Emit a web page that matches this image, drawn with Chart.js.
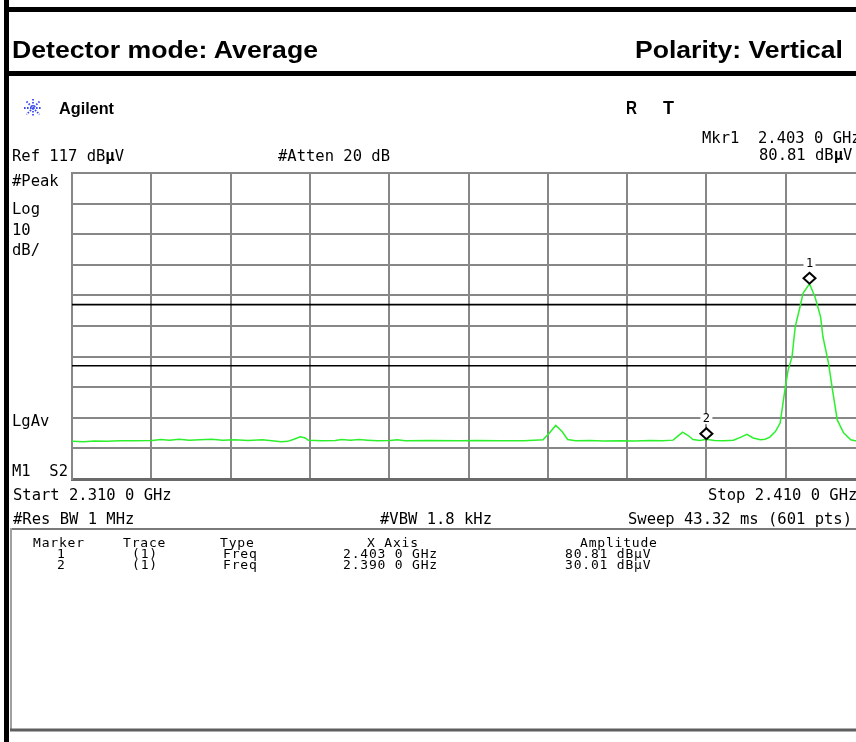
<!DOCTYPE html>
<html>
<head>
<meta charset="utf-8">
<script src="https://cdn.jsdelivr.net/npm/chart.js@4.4.1/dist/chart.umd.min.js"></script>
<style>
  html, body { margin: 0; padding: 0; background: #fff; overflow: hidden; width: 856px; height: 742px; }
  #plot { position: absolute; left: 70px; top: 171px; width: 797px; height: 310px; }
  #frame { position: absolute; left: 0; top: 0; }
  text { white-space: pre; }
  .hp { font-family: "DejaVu Sans Mono", monospace; font-size: 15.5px; fill: #000; }
  .tb { font-family: "DejaVu Sans Mono", monospace; font-size: 13px; letter-spacing: 0.8px; fill: #000; }
  .hd { font-family: "Liberation Sans", Arial, sans-serif; font-weight: bold; fill: #000; }
</style>
</head>
<body>
<div id="plot"><canvas id="spectrum"></canvas></div>

<svg id="frame" width="856" height="742">
  <!-- report frame -->
  <rect x="4" y="0" width="5" height="742" fill="#000"/>
  <rect x="4" y="7" width="852" height="5" fill="#000"/>
  <rect x="4" y="71" width="852" height="5" fill="#000"/>
  <text class="hd" x="12" y="58" font-size="23" textLength="306" lengthAdjust="spacingAndGlyphs">Detector mode: Average</text>
  <text class="hd" x="635" y="58" font-size="23" textLength="208" lengthAdjust="spacingAndGlyphs">Polarity: Vertical</text>

  <!-- analyzer header -->
  <g stroke="#3a4cf0" stroke-width="1.8" stroke-dasharray="1.6 1.4">
    <line x1="24" y1="108" x2="42" y2="108"/>
    <line x1="33" y1="99" x2="33" y2="117"/>
    <line x1="26.5" y1="101.5" x2="39.5" y2="114.5"/>
    <line x1="39.5" y1="101.5" x2="26.5" y2="114.5"/>
  </g>
  <text class="hd" x="59" y="114" font-size="17" textLength="55" lengthAdjust="spacingAndGlyphs">Agilent</text>
  <text class="hd" x="626" y="114" font-size="18" textLength="11" lengthAdjust="spacingAndGlyphs">R</text>
  <text class="hd" x="663" y="114" font-size="18" textLength="11" lengthAdjust="spacingAndGlyphs">T</text>

  <text class="hp" x="702" y="143">Mkr1  2.403 0 GHz</text>
  <text class="hp" x="12" y="161">Ref 117 dB<tspan font-weight="bold">μ</tspan>V</text>
  <text class="hp" x="278" y="161">#Atten 20 dB</text>
  <text class="hp" x="759" y="160">80.81 dB<tspan font-weight="bold">μ</tspan>V</text>
  <text class="hp" x="12" y="186">#Peak</text>
  <text class="hp" x="12" y="214">Log</text>
  <text class="hp" x="12" y="235">10</text>
  <text class="hp" x="12" y="255">dB/</text>
  <text class="hp" x="12" y="426">LgAv</text>
  <text class="hp" x="12" y="476">M1  S2</text>
  <text class="hp" x="13" y="500">Start 2.310 0 GHz</text>
  <text class="hp" x="708" y="500">Stop 2.410 0 GHz</text>
  <text class="hp" x="13" y="524">#Res BW 1 MHz</text>
  <text class="hp" x="380" y="524">#VBW 1.8 kHz</text>
  <text class="hp" x="628" y="524">Sweep 43.32 ms (601 pts)</text>

  <!-- marker table box -->
  <line x1="10" y1="529" x2="856" y2="529" stroke="#7a7a7a" stroke-width="2"/>
  <line x1="11" y1="528" x2="11" y2="731" stroke="#a0a0a0" stroke-width="2"/>
  <line x1="10" y1="730" x2="856" y2="730" stroke="#5e5e5e" stroke-width="3"/>
  <g id="table"></g>
</svg>

<script>
// sweep settings
const startMHz = 2310;
const stopMHz = 2410;
const xTicks = [2310, 2320, 2330, 2340, 2350, 2360, 2370, 2380, 2390, 2400, 2410];
const yTicks = [17, 27, 37, 47, 57, 67, 77, 87, 97, 107, 117];

// trace 1 (MHz, dBuV)
const traceFreq = [
  2310, 2311.5, 2312.8, 2314.4, 2316, 2318, 2320.1, 2321.2, 2322.3, 2323.5,
  2324.8, 2326.1, 2327.6, 2329, 2330.5, 2332.2, 2334, 2335.2, 2336.4, 2337.2,
  2337.9, 2338.8, 2339.4, 2339.8, 2341.5, 2343.2, 2344, 2345.1, 2346.2, 2347.3,
  2348.5, 2350.1, 2351, 2352, 2355, 2358.9, 2361, 2364, 2367, 2369.4,
  2370.2, 2371.0, 2371.8, 2372.5, 2373.5, 2375.3, 2377, 2379.1, 2381, 2382.9,
  2384.5, 2385.8, 2386.4, 2387.0, 2387.7, 2388.3, 2389.2, 2390, 2391, 2392.2,
  2393.4, 2394.3, 2395.1, 2395.9, 2396.8, 2397.4, 2398.0, 2398.7, 2399.3, 2399.9,
  2400.3, 2400.8, 2401.2, 2401.8, 2402.2, 2403.0, 2403.7, 2404.4, 2404.7, 2405.4,
  2405.9, 2406.5, 2407.3, 2408.2, 2408.9, 2409.5, 2410
];
const traceLevel = [
  29.3, 29.2, 29.4, 29.3, 29.5, 29.5, 29.6, 29.9, 29.7, 30.0,
  29.7, 29.8, 30.0, 29.7, 29.8, 29.6, 29.8, 29.5, 29.2, 29.3,
  29.9, 30.8, 30.4, 29.7, 29.5, 29.6, 29.9, 29.7, 29.9, 29.7,
  29.5, 29.6, 29.8, 29.5, 29.6, 29.5, 29.6, 29.5, 29.5, 29.8,
  32.0, 34.5, 32.5, 29.9, 29.5, 29.6, 29.4, 29.5, 29.4, 29.6,
  29.5, 29.7, 31.0, 32.3, 31.2, 29.9, 29.6, 30.0, 29.6, 29.5,
  29.7, 30.6, 31.6, 30.4, 29.8, 30.0, 30.7, 32.5, 35.3, 46.1,
  52.6, 56.9, 66.7, 73.2, 77.8, 80.81, 76.5, 70.0, 63.4, 54.9,
  46.1, 36.3, 32.1, 29.8, 29.4, 29.5, 29.4
];

// display lines
const limitLevels = [74, 54];

// markers
const markerNames = ['1', '2'];
const markerFreq = [2403.0, 2390.0];
const markerLevel = [80.81, 30.01];

// marker table rows
const tableRows = markerNames.map((n, i) => [
  n, '(1)', 'Freq',
  (markerFreq[i] / 1000).toFixed(3) + ' 0 GHz',
  markerLevel[i].toFixed(2) + ' dBμV'
]);
const tableHead = ['Marker', 'Trace', 'Type', 'X Axis', 'Amplitude'];
const headX = [33, 123, 220, 367, 580];
const cellX = [57, 132, 223, 343, 565];

const svgNS = 'http://www.w3.org/2000/svg';
const tableGroup = document.getElementById('table');
function addText(str, x, y) {
  const t = document.createElementNS(svgNS, 'text');
  t.setAttribute('class', 'tb');
  t.setAttribute('x', x);
  t.setAttribute('y', y);
  t.textContent = str;
  tableGroup.appendChild(t);
}
tableHead.forEach((h, i) => addText(h, headX[i], 547));
tableRows.forEach((row, r) => row.forEach((c, i) => addText(c, cellX[i], 558 + r * 11)));

const markerPlugin = {
  id: 'markers',
  afterDatasetsDraw(chart) {
    const { ctx, scales: { x, y } } = chart;
    ctx.save();
    markerFreq.forEach((f, i) => {
      const px = x.getPixelForValue(f);
      const py = y.getPixelForValue(markerLevel[i]) - 5.5;
      ctx.beginPath();
      ctx.moveTo(px, py - 5.5);
      ctx.lineTo(px + 6, py);
      ctx.lineTo(px, py + 5.5);
      ctx.lineTo(px - 6, py);
      ctx.closePath();
      ctx.fillStyle = '#fff';
      ctx.fill();
      ctx.lineWidth = 2;
      ctx.strokeStyle = '#000';
      ctx.stroke();

      const ly = py - 14.5;
      ctx.fillStyle = '#fff';
      ctx.fillRect(px - 6, ly - 5, 12, 10);
      ctx.fillStyle = '#000';
      ctx.font = '12px "DejaVu Sans Mono"';
      ctx.textAlign = 'center';
      ctx.textBaseline = 'middle';
      ctx.fillText(markerNames[i], px, ly);
    });
    ctx.restore();
  }
};

const gridColor = '#878787';

new Chart(document.getElementById('spectrum'), {
  type: 'line',
  data: {
    datasets: [
      {
        data: traceFreq.map((f, i) => ({ x: f, y: traceLevel[i] })),
        borderColor: '#2cf02c',
        borderWidth: 1.5,
        pointRadius: 0,
        tension: 0,
        order: 0
      },
      ...limitLevels.map(v => ({
        data: [{ x: startMHz, y: v }, { x: stopMHz, y: v }],
        borderColor: '#000',
        borderWidth: 1.6,
        pointRadius: 0,
        order: 1
      }))
    ]
  },
  options: {
    responsive: true,
    maintainAspectRatio: false,
    animation: false,
    layout: { padding: 2 },
    plugins: { legend: { display: false }, tooltip: { enabled: false } },
    scales: {
      x: {
        type: 'linear',
        min: startMHz,
        max: stopMHz,
        afterBuildTicks: s => { s.ticks = xTicks.map(v => ({ value: v })); },
        ticks: { display: false },
        grid: { color: gridColor, lineWidth: 2, drawTicks: false },
        border: { color: '#6a6a6a', width: 3 }
      },
      y: {
        min: yTicks[0],
        max: yTicks[yTicks.length - 1],
        afterBuildTicks: s => { s.ticks = yTicks.map(v => ({ value: v })); },
        ticks: { display: false },
        grid: { color: gridColor, lineWidth: 2, drawTicks: false },
        border: { color: gridColor, width: 2 }
      }
    }
  },
  plugins: [markerPlugin]
});
</script>
</body>
</html>
